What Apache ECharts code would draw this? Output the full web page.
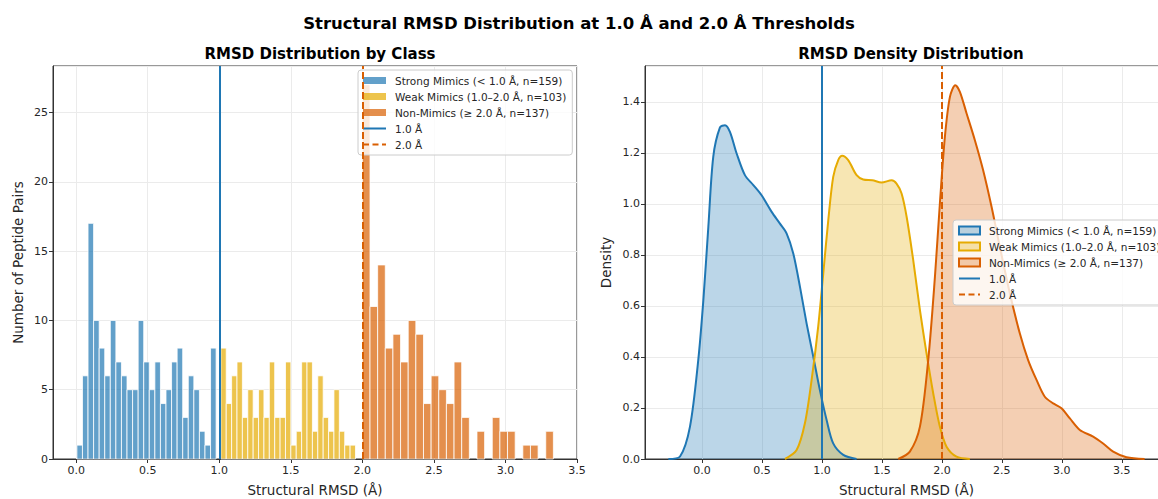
<!DOCTYPE html>
<html>
<head>
<meta charset="utf-8">
<script src="https://cdn.jsdelivr.net/npm/echarts@6/dist/echarts.min.js"></script>
<style>
  html, body { margin: 0; padding: 0; background: #fff; }
  #chart { width: 1158px; height: 499px; }
</style>
</head>
<body>
<div id="chart"></div>
<script>
// histogram counts, 25 bins per class
const strongCounts = [1, 6, 17, 10, 8, 6, 10, 7, 6, 5, 5, 10, 7, 5, 7, 4, 5, 7, 8, 3, 6, 5, 2, 1, 8];
const weakCounts = [8, 4, 6, 7, 3, 5, 3, 5, 3, 7, 3, 3, 7, 1, 2, 7, 7, 2, 6, 3, 2, 5, 2, 1, 1];
const nonCounts = [27, 11, 14, 8, 9, 7, 10, 9, 4, 6, 5, 4, 7, 3, 0, 2, 0, 3, 2, 2, 0, 1, 1, 0, 2];
// data range (min, max RMSD) of each class
const strongRange = [0.005, 0.978];
const weakRange = [1.011, 1.952];
const nonRange = [2.0, 3.335];

// KDE curves [rmsd, density]
const strongKde = [
  [-0.28, 0], [-0.183, 0.01], [-0.1, 0.127], [-0.031, 0.388], [0.011, 0.62], [0.053, 0.91],
  [0.094, 1.185], [0.15, 1.30], [0.192, 1.309], [0.233, 1.283], [0.289, 1.198], [0.358, 1.113],
  [0.428, 1.074], [0.497, 1.034], [0.581, 0.969], [0.65, 0.923], [0.706, 0.884], [0.761, 0.806],
  [0.817, 0.675], [0.872, 0.532], [0.928, 0.401], [0.983, 0.27], [1.039, 0.153], [1.094, 0.061],
  [1.178, 0.016], [1.289, 0]
];
const weakKde = [
  [0.692, 0], [0.789, 0.035], [0.858, 0.14], [0.914, 0.31], [0.969, 0.52], [1.011, 0.727],
  [1.053, 0.937], [1.094, 1.106], [1.136, 1.172], [1.169, 1.189], [1.219, 1.172], [1.289, 1.113],
  [1.344, 1.096], [1.42, 1.093], [1.497, 1.084], [1.581, 1.093], [1.622, 1.08], [1.664, 1.041],
  [1.706, 0.95], [1.761, 0.78], [1.817, 0.584], [1.872, 0.414], [1.928, 0.257], [1.983, 0.127],
  [2.039, 0.048], [2.122, 0.009], [2.233, 0]
];
const nonKde = [
  [1.636, 0], [1.733, 0.029], [1.817, 0.127], [1.886, 0.388], [1.942, 0.714], [1.983, 1.0],
  [2.025, 1.263], [2.067, 1.42], [2.112, 1.466], [2.15, 1.44], [2.206, 1.355], [2.275, 1.25],
  [2.344, 1.132], [2.414, 0.989], [2.483, 0.832], [2.567, 0.649], [2.65, 0.492], [2.719, 0.388],
  [2.789, 0.31], [2.858, 0.244], [2.928, 0.218], [2.997, 0.199], [3.067, 0.159], [3.15, 0.114],
  [3.261, 0.088], [3.344, 0.061], [3.428, 0.029], [3.539, 0.007], [3.69, 0]
];

const xTicks = [0.0, 0.5, 1.0, 1.5, 2.0, 2.5, 3.0, 3.5];
const thresholds = [1.0, 2.0];

const names = ['Strong Mimics (< 1.0 Å, n=159)', 'Weak Mimics (1.0–2.0 Å, n=103)', 'Non-Mimics (≥ 2.0 Å, n=137)', '1.0 Å', '2.0 Å'];
const lineColors = ['#1f77b4', '#E6AB02', '#D95F02'];
const barColors = ['rgba(31,119,180,0.7)', 'rgba(230,171,2,0.7)', 'rgba(217,95,2,0.7)'];
const fillColors = ['rgba(31,119,180,0.3)', 'rgba(230,171,2,0.3)', 'rgba(217,95,2,0.3)'];

const FONT = 'DejaVu Sans';
const TXT = '#262626';

// legend icons for the threshold lines (tiny corner specks keep the icon box size)
function lineIcon(w, h, dashed) {
  const y = h / 2 - 1;
  let p = 'path://M0,0h0.01v0.01h-0.01z M' + w + ',' + h + 'h-0.01v-0.01h0.01z';
  if (!dashed) {
    p += ' M0,' + y + 'h' + w + 'v2h-' + w + 'z';
  } else {
    for (let x = 0; x < w; x += 9.5) {
      const d = Math.min(6, w - x);
      p += ' M' + x + ',' + y + 'h' + d + 'v2h-' + d + 'z';
    }
  }
  return p;
}

function bins(counts, range) {
  const w = (range[1] - range[0]) / counts.length;
  return counts.map((c, i) => [range[0] + i * w, range[0] + (i + 1) * w, c]);
}

function histSeries(idx, counts, range) {
  return {
    name: names[idx],
    type: 'custom',
    xAxisIndex: 0,
    yAxisIndex: 0,
    z: 2,
    data: bins(counts, range),
    encode: { x: [0, 1], y: 2 },
    itemStyle: { color: barColors[idx] },
    renderItem: function (params, api) {
      if (!api.value(2)) return null;
      const p0 = api.coord([api.value(0), 0]);
      const p1 = api.coord([api.value(1), api.value(2)]);
      return {
        type: 'rect',
        shape: { x: p0[0], y: p1[1], width: p1[0] - p0[0], height: p0[1] - p1[1] },
        style: { fill: barColors[idx], stroke: '#fff', lineWidth: 0.8 }
      };
    }
  };
}

function kdeSeries(idx, data) {
  return {
    name: names[idx],
    type: 'line',
    xAxisIndex: 1,
    yAxisIndex: 1,
    z: 3,
    smooth: 0.3,
    symbol: 'none',
    data: data,
    color: lineColors[idx],
    lineStyle: { color: lineColors[idx], width: 2 },
    areaStyle: { color: fillColors[idx], opacity: 1 }
  };
}

function threshSeries(grid, k) {
  const color = k === 0 ? '#1f77b4' : '#D95F02';
  const type = k === 0 ? 'solid' : [7, 3];
  return {
    name: names[3 + k],
    type: 'line',
    xAxisIndex: grid,
    yAxisIndex: grid,
    z: 6,
    symbol: 'none',
    data: [],
    color: color,
    lineStyle: { color: color, width: 2, type: type },
    markLine: {
      silent: true,
      symbol: 'none',
      label: { show: false },
      lineStyle: { color: color, width: 2, type: type },
      data: [{ xAxis: thresholds[k] }]
    }
  };
}

function xAxisCfg(grid, min, max) {
  return {
    type: 'value', gridIndex: grid, min: min, max: max,
    name: 'Structural RMSD (Å)', nameLocation: 'middle', nameGap: 24,
    nameTextStyle: { fontFamily: FONT, fontSize: 13.5, color: TXT },
    axisLine: { show: true, onZero: false, lineStyle: { color: '#333', width: 1 } },
    axisTick: { show: true, length: 4, customValues: xTicks, lineStyle: { color: '#333' } },
    axisLabel: { customValues: xTicks, margin: 6, fontFamily: FONT, fontSize: 11, color: TXT,
      formatter: v => v.toFixed(1) },
    splitLine: { show: true, lineStyle: { color: '#ebebeb', width: 1 } }
  };
}

function yAxisCfg(grid, max, interval, name, gap, fmt) {
  return {
    type: 'value', gridIndex: grid, min: 0, max: max, interval: interval,
    name: name, nameLocation: 'middle', nameGap: gap,
    nameTextStyle: { fontFamily: FONT, fontSize: 13.5, color: TXT },
    axisLine: { show: true, onZero: false, lineStyle: { color: '#333', width: 1 } },
    axisTick: { show: true, length: 4, lineStyle: { color: '#333' } },
    axisLabel: { margin: 5, fontFamily: FONT, fontSize: 11, color: TXT, formatter: fmt,
      showMaxLabel: false },
    splitLine: { show: true, lineStyle: { color: '#ebebeb', width: 1 } }
  };
}

const legendBase = {
  orient: 'vertical',
  itemWidth: 23,
  itemHeight: 7,
  itemGap: 5,
  padding: [5, 6, 5, 5],
  backgroundColor: 'rgba(255,255,255,0.8)',
  borderColor: '#cccccc',
  borderWidth: 1,
  borderRadius: 3,
  textStyle: { fontFamily: FONT, fontSize: 10.5, color: TXT, lineHeight: 11, padding: [0, 0, 0, 4] },
  selectedMode: false
};

const chart = echarts.init(document.getElementById('chart'), null, { renderer: 'svg' });
chart.setOption({
  animation: false,
  backgroundColor: '#fff',
  title: [
    { text: 'Structural RMSD Distribution at 1.0 Å and 2.0 Å Thresholds', left: 'center', top: 10,
      textStyle: { fontFamily: FONT, fontSize: 16.5, fontWeight: 'bold', color: '#000' } },
    { text: 'RMSD Distribution by Class', left: 315, top: 41, textAlign: 'center',
      textStyle: { fontFamily: FONT, fontSize: 15, fontWeight: 'bold', color: '#000' } },
    { text: 'RMSD Density Distribution', left: 906, top: 41, textAlign: 'center',
      textStyle: { fontFamily: FONT, fontSize: 15, fontWeight: 'bold', color: '#000' } }
  ],
  grid: [
    { left: 53, right: 581, top: 66, bottom: 40, outerBoundsMode: 'none', containLabel: false,
      show: true, borderColor: '#333', borderWidth: 1, backgroundColor: 'transparent' },
    { left: 645, right: -10, top: 66, bottom: 40, outerBoundsMode: 'none', containLabel: false,
      show: true, borderColor: '#333', borderWidth: 1, backgroundColor: 'transparent' }
  ],
  xAxis: [xAxisCfg(0, -0.162, 3.5), xAxisCfg(1, -0.475, 3.885)],
  yAxis: [
    yAxisCfg(0, 28.35, 5, 'Number of Peptide Pairs', 28, v => String(v)),
    yAxisCfg(1, 1.541, 0.2, 'Density', 32, v => v.toFixed(1))
  ],
  legend: [
    Object.assign({}, legendBase, {
      left: 358, top: 70,
      data: [
        { name: names[0], icon: 'rect', itemStyle: { color: barColors[0] } },
        { name: names[1], icon: 'rect', itemStyle: { color: barColors[1] } },
        { name: names[2], icon: 'rect', itemStyle: { color: barColors[2] } },
        { name: names[3], icon: lineIcon(23, 7, false), itemStyle: { color: '#1f77b4', borderWidth: 0 } },
        { name: names[4], icon: lineIcon(23, 7, true), itemStyle: { color: '#D95F02', borderWidth: 0 } }
      ]
    }),
    Object.assign({}, legendBase, {
      left: 953, top: 220, itemWidth: 21, itemHeight: 8,
      data: [
        { name: names[0], icon: 'rect', itemStyle: { color: fillColors[0], borderColor: lineColors[0], borderWidth: 2 } },
        { name: names[1], icon: 'rect', itemStyle: { color: fillColors[1], borderColor: lineColors[1], borderWidth: 2 } },
        { name: names[2], icon: 'rect', itemStyle: { color: fillColors[2], borderColor: lineColors[2], borderWidth: 2 } },
        { name: names[3], icon: lineIcon(21, 8, false), itemStyle: { color: '#1f77b4', borderWidth: 0 } },
        { name: names[4], icon: lineIcon(21, 8, true), itemStyle: { color: '#D95F02', borderWidth: 0 } }
      ]
    })
  ],
  series: [
    histSeries(0, strongCounts, strongRange),
    histSeries(1, weakCounts, weakRange),
    histSeries(2, nonCounts, nonRange),
    threshSeries(0, 0),
    threshSeries(0, 1),
    kdeSeries(0, strongKde),
    kdeSeries(1, weakKde),
    kdeSeries(2, nonKde),
    threshSeries(1, 0),
    threshSeries(1, 1)
  ]
});
</script>
</body>
</html>
